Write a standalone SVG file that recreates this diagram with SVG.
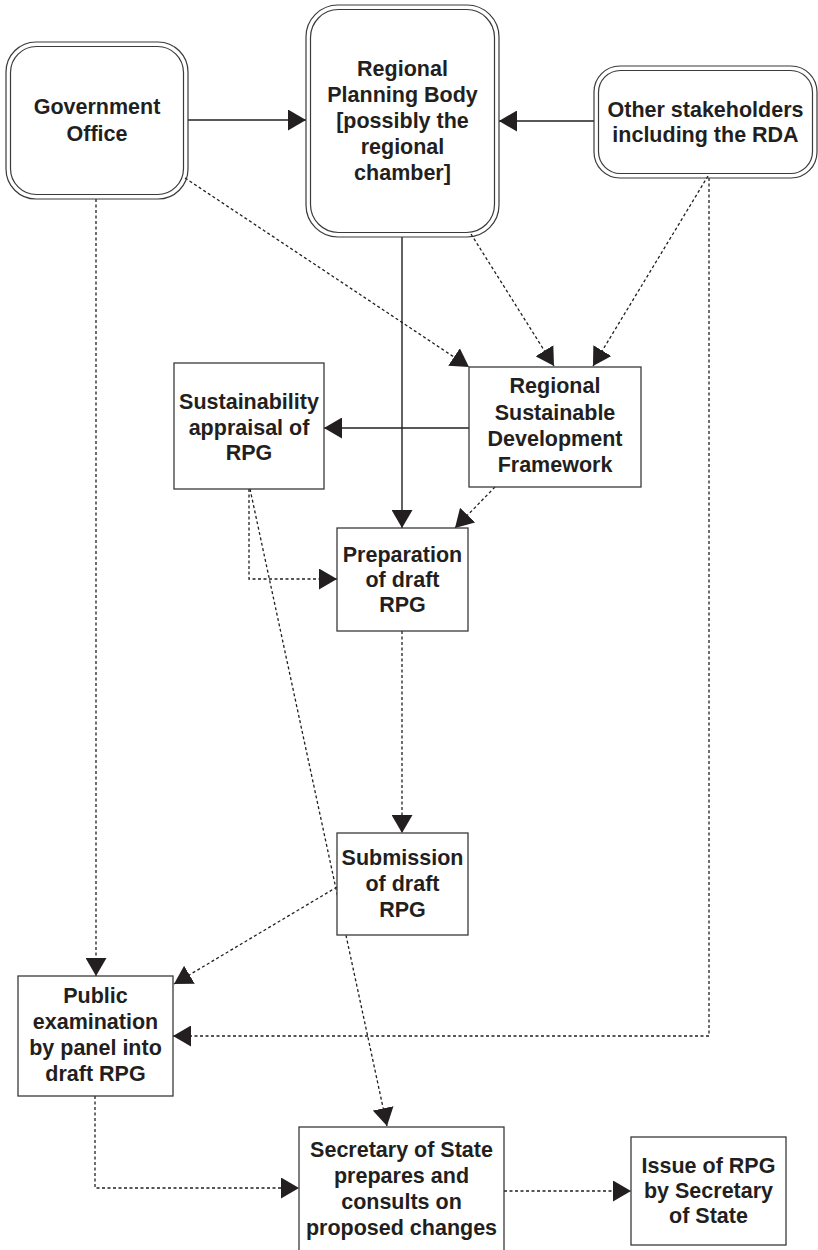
<svg xmlns="http://www.w3.org/2000/svg" width="818" height="1250" viewBox="0 0 818 1250">
<defs>
<style>
.box{fill:#fff;stroke:#3a3a3a;stroke-width:1.3}
.rb{fill:none;stroke:#3a3a3a;stroke-width:1.2}
.t{font-family:"Liberation Sans",Arial,sans-serif;font-weight:bold;font-size:21.5px;fill:#231f20;text-anchor:middle}
.s{fill:none;stroke:#231f20;stroke-width:1.4}
.d{fill:none;stroke:#231f20;stroke-width:1.3;stroke-dasharray:3 2.5}
</style>
<marker id="ah" markerUnits="userSpaceOnUse" markerWidth="19" markerHeight="21" refX="18" refY="10.5" orient="auto" viewBox="0 0 19 21">
<path d="M0,0 L18,10.5 L0,21 z" fill="#231f20"/>
</marker>
</defs>
<rect width="818" height="1250" fill="#fff"/>
<g id="connectors">
<line class="s" x1="188" y1="120" x2="306" y2="120" marker-end="url(#ah)"/>
<line class="s" x1="594" y1="121" x2="499" y2="121" marker-end="url(#ah)"/>
<line class="s" x1="402" y1="237" x2="402" y2="528" marker-end="url(#ah)"/>
<line class="s" x1="469" y1="428" x2="324" y2="428" marker-end="url(#ah)"/>
<line class="d" x1="185" y1="178" x2="469" y2="367" marker-end="url(#ah)"/>
<line class="d" x1="471" y1="234" x2="554" y2="366" marker-end="url(#ah)"/>
<line class="d" x1="708" y1="176" x2="593" y2="366" marker-end="url(#ah)"/>
<line class="d" x1="495" y1="487" x2="455" y2="528" marker-end="url(#ah)"/>
<polyline class="d" points="249,489 249,579 337,579" marker-end="url(#ah)"/>
<line class="d" x1="250" y1="489" x2="387" y2="1126" marker-end="url(#ah)"/>
<line class="d" x1="402" y1="631" x2="402" y2="833" marker-end="url(#ah)"/>
<line class="d" x1="96" y1="199" x2="96" y2="976" marker-end="url(#ah)"/>
<line class="d" x1="337" y1="887" x2="174" y2="984" marker-end="url(#ah)"/>
<polyline class="d" points="709,178 709,1036 173,1036" marker-end="url(#ah)"/>
<polyline class="d" points="95,1096 95,1188 299,1188" marker-end="url(#ah)"/>
<line class="d" x1="504" y1="1191" x2="631" y2="1191" marker-end="url(#ah)"/>
</g>
<g id="government-office">
<rect class="rb" x="6" y="42" width="182" height="157" rx="30"/>
<rect class="rb" x="10.5" y="46.5" width="173" height="148" rx="26"/>
<text class="t" x="97" y="114">Government</text>
<text class="t" x="97" y="141">Office</text>
</g>
<g id="regional-planning-body">
<rect class="rb" x="306" y="5" width="193" height="232" rx="32"/>
<rect class="rb" x="310.5" y="9.5" width="184" height="223" rx="28"/>
<text class="t" x="402.5" y="76">Regional</text>
<text class="t" x="402.5" y="102">Planning Body</text>
<text class="t" x="402.5" y="128">[possibly the</text>
<text class="t" x="402.5" y="154">regional</text>
<text class="t" x="402.5" y="180">chamber]</text>
</g>
<g id="other-stakeholders">
<rect class="rb" x="594" y="66" width="223" height="112" rx="26"/>
<rect class="rb" x="598.5" y="70.5" width="214" height="103" rx="22"/>
<text class="t" x="705.5" y="117">Other stakeholders</text>
<text class="t" x="705.5" y="142">including the RDA</text>
</g>
<g id="rsdf">
<rect class="box" x="469" y="367" width="172" height="120"/>
<text class="t" x="555" y="393">Regional</text>
<text class="t" x="555" y="420">Sustainable</text>
<text class="t" x="555" y="446">Development</text>
<text class="t" x="555" y="472">Framework</text>
</g>
<g id="sustainability-appraisal">
<rect class="box" x="174" y="363" width="150" height="126"/>
<text class="t" x="249" y="409">Sustainability</text>
<text class="t" x="249" y="435">appraisal of</text>
<text class="t" x="249" y="460">RPG</text>
</g>
<g id="preparation">
<rect class="box" x="337" y="528" width="131" height="103"/>
<text class="t" x="402.5" y="562">Preparation</text>
<text class="t" x="402.5" y="587">of draft</text>
<text class="t" x="402.5" y="612">RPG</text>
</g>
<g id="submission">
<rect class="box" x="337" y="833" width="131" height="102"/>
<text class="t" x="402.5" y="865">Submission</text>
<text class="t" x="402.5" y="891">of draft</text>
<text class="t" x="402.5" y="917">RPG</text>
</g>
<g id="public-examination">
<rect class="box" x="18" y="976" width="155" height="120"/>
<text class="t" x="95.5" y="1003">Public</text>
<text class="t" x="95.5" y="1029">examination</text>
<text class="t" x="95.5" y="1055">by panel into</text>
<text class="t" x="95.5" y="1081">draft RPG</text>
</g>
<g id="secretary-of-state">
<rect class="box" x="299" y="1127" width="205" height="130"/>
<text class="t" x="401.5" y="1157">Secretary of State</text>
<text class="t" x="401.5" y="1183">prepares and</text>
<text class="t" x="401.5" y="1209">consults on</text>
<text class="t" x="401.5" y="1235">proposed changes</text>
</g>
<g id="issue-of-rpg">
<rect class="box" x="631" y="1137" width="155" height="108"/>
<text class="t" x="708.5" y="1173">Issue of RPG</text>
<text class="t" x="708.5" y="1198">by Secretary</text>
<text class="t" x="708.5" y="1223">of State</text>
</g>
</svg>
